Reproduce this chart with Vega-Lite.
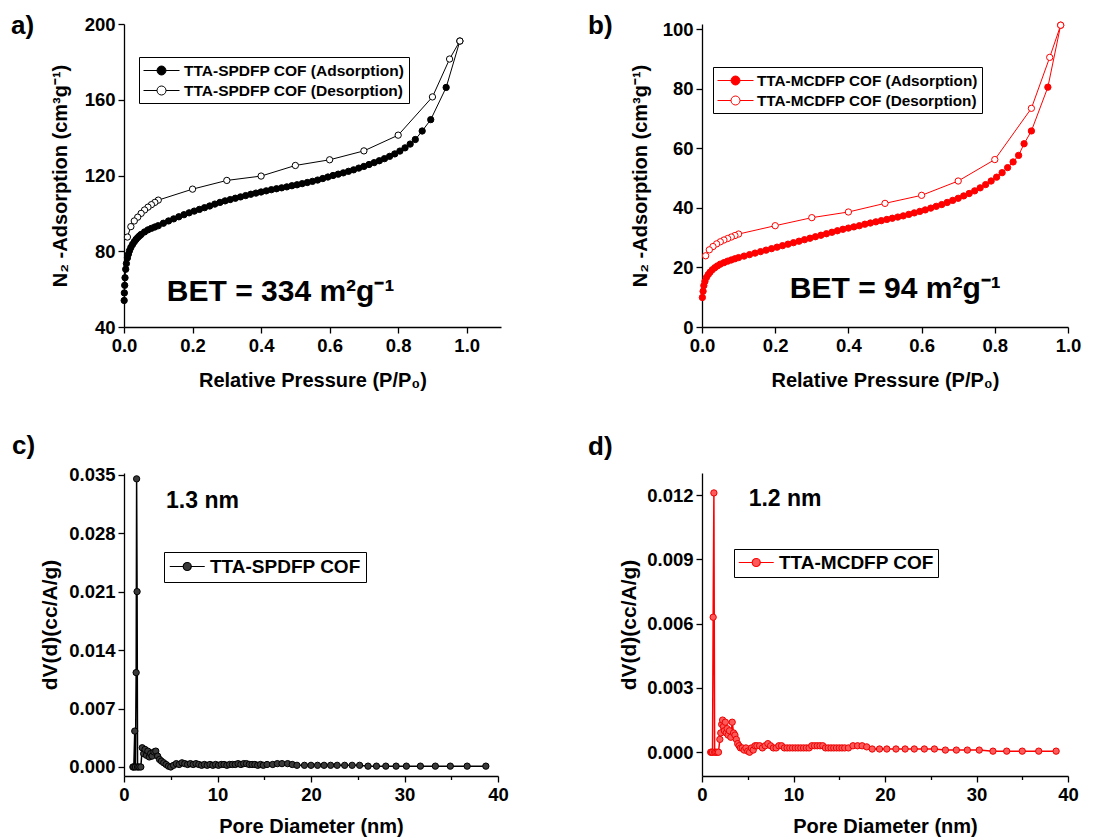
{
"$schema":"https://vega.github.io/schema/vega-lite/v6.json",
"background":"white",
"padding":{"left":11,"top":13,"right":5,"bottom":5},
"bounds":"flush",
"columns":2,
"spacing":{"row":146,"column":201},
"resolve":{"scale":{"fill":"independent","x":"independent","y":"independent"},"legend":{"fill":"independent"},"axis":{"x":"independent","y":"independent"}},
"datasets":{
"a":[
{"p":0.0005,"v":54,"s":"TTA-SPDFP COF (Adsorption)"},{"p":0.001,"v":58,"s":"TTA-SPDFP COF (Adsorption)"},{"p":0.002,"v":62,"s":"TTA-SPDFP COF (Adsorption)"},{"p":0.003,"v":66,"s":"TTA-SPDFP COF (Adsorption)"},{"p":0.005,"v":70.5,"s":"TTA-SPDFP COF (Adsorption)"},{"p":0.007,"v":73.5,"s":"TTA-SPDFP COF (Adsorption)"},{"p":0.01,"v":76.5,"s":"TTA-SPDFP COF (Adsorption)"},{"p":0.013,"v":78.5,"s":"TTA-SPDFP COF (Adsorption)"},{"p":0.016,"v":80.3,"s":"TTA-SPDFP COF (Adsorption)"},{"p":0.02,"v":82,"s":"TTA-SPDFP COF (Adsorption)"},{"p":0.025,"v":83.6,"s":"TTA-SPDFP COF (Adsorption)"},{"p":0.03,"v":85,"s":"TTA-SPDFP COF (Adsorption)"},{"p":0.035,"v":86.2,"s":"TTA-SPDFP COF (Adsorption)"},{"p":0.04,"v":87.2,"s":"TTA-SPDFP COF (Adsorption)"},{"p":0.045,"v":88.1,"s":"TTA-SPDFP COF (Adsorption)"},{"p":0.05,"v":88.9,"s":"TTA-SPDFP COF (Adsorption)"},{"p":0.06,"v":90.2,"s":"TTA-SPDFP COF (Adsorption)"},{"p":0.07,"v":91.3,"s":"TTA-SPDFP COF (Adsorption)"},{"p":0.08,"v":92.1,"s":"TTA-SPDFP COF (Adsorption)"},{"p":0.09,"v":92.8,"s":"TTA-SPDFP COF (Adsorption)"},{"p":0.1,"v":93.5,"s":"TTA-SPDFP COF (Adsorption)"},{"p":0.115,"v":94.8,"s":"TTA-SPDFP COF (Adsorption)"},{"p":0.13,"v":96,"s":"TTA-SPDFP COF (Adsorption)"},{"p":0.145,"v":97.1,"s":"TTA-SPDFP COF (Adsorption)"},{"p":0.16,"v":98.2,"s":"TTA-SPDFP COF (Adsorption)"},{"p":0.175,"v":99.3,"s":"TTA-SPDFP COF (Adsorption)"},{"p":0.19,"v":100.3,"s":"TTA-SPDFP COF (Adsorption)"},{"p":0.205,"v":101.2,"s":"TTA-SPDFP COF (Adsorption)"},{"p":0.22,"v":102.1,"s":"TTA-SPDFP COF (Adsorption)"},{"p":0.235,"v":103,"s":"TTA-SPDFP COF (Adsorption)"},{"p":0.25,"v":103.9,"s":"TTA-SPDFP COF (Adsorption)"},{"p":0.265,"v":104.9,"s":"TTA-SPDFP COF (Adsorption)"},{"p":0.28,"v":105.8,"s":"TTA-SPDFP COF (Adsorption)"},{"p":0.295,"v":106.6,"s":"TTA-SPDFP COF (Adsorption)"},{"p":0.31,"v":107.3,"s":"TTA-SPDFP COF (Adsorption)"},{"p":0.325,"v":108,"s":"TTA-SPDFP COF (Adsorption)"},{"p":0.34,"v":108.7,"s":"TTA-SPDFP COF (Adsorption)"},{"p":0.355,"v":109.4,"s":"TTA-SPDFP COF (Adsorption)"},{"p":0.37,"v":110.1,"s":"TTA-SPDFP COF (Adsorption)"},{"p":0.385,"v":110.7,"s":"TTA-SPDFP COF (Adsorption)"},{"p":0.4,"v":111.3,"s":"TTA-SPDFP COF (Adsorption)"},{"p":0.415,"v":111.9,"s":"TTA-SPDFP COF (Adsorption)"},{"p":0.43,"v":112.5,"s":"TTA-SPDFP COF (Adsorption)"},{"p":0.445,"v":113,"s":"TTA-SPDFP COF (Adsorption)"},{"p":0.46,"v":113.5,"s":"TTA-SPDFP COF (Adsorption)"},{"p":0.475,"v":114,"s":"TTA-SPDFP COF (Adsorption)"},{"p":0.49,"v":114.6,"s":"TTA-SPDFP COF (Adsorption)"},{"p":0.505,"v":115.1,"s":"TTA-SPDFP COF (Adsorption)"},{"p":0.52,"v":115.7,"s":"TTA-SPDFP COF (Adsorption)"},{"p":0.535,"v":116.3,"s":"TTA-SPDFP COF (Adsorption)"},{"p":0.55,"v":116.9,"s":"TTA-SPDFP COF (Adsorption)"},{"p":0.565,"v":117.6,"s":"TTA-SPDFP COF (Adsorption)"},{"p":0.58,"v":118.4,"s":"TTA-SPDFP COF (Adsorption)"},{"p":0.595,"v":119.2,"s":"TTA-SPDFP COF (Adsorption)"},{"p":0.61,"v":120,"s":"TTA-SPDFP COF (Adsorption)"},{"p":0.625,"v":120.7,"s":"TTA-SPDFP COF (Adsorption)"},{"p":0.64,"v":121.4,"s":"TTA-SPDFP COF (Adsorption)"},{"p":0.655,"v":122.2,"s":"TTA-SPDFP COF (Adsorption)"},{"p":0.67,"v":123,"s":"TTA-SPDFP COF (Adsorption)"},{"p":0.685,"v":123.9,"s":"TTA-SPDFP COF (Adsorption)"},{"p":0.7,"v":124.8,"s":"TTA-SPDFP COF (Adsorption)"},{"p":0.715,"v":125.8,"s":"TTA-SPDFP COF (Adsorption)"},{"p":0.73,"v":126.8,"s":"TTA-SPDFP COF (Adsorption)"},{"p":0.745,"v":127.8,"s":"TTA-SPDFP COF (Adsorption)"},{"p":0.76,"v":128.9,"s":"TTA-SPDFP COF (Adsorption)"},{"p":0.775,"v":130.1,"s":"TTA-SPDFP COF (Adsorption)"},{"p":0.79,"v":131.4,"s":"TTA-SPDFP COF (Adsorption)"},{"p":0.805,"v":132.9,"s":"TTA-SPDFP COF (Adsorption)"},{"p":0.82,"v":134.6,"s":"TTA-SPDFP COF (Adsorption)"},{"p":0.835,"v":136.6,"s":"TTA-SPDFP COF (Adsorption)"},{"p":0.85,"v":139,"s":"TTA-SPDFP COF (Adsorption)"},{"p":0.87,"v":143.5,"s":"TTA-SPDFP COF (Adsorption)"},{"p":0.895,"v":149.5,"s":"TTA-SPDFP COF (Adsorption)"},{"p":0.94,"v":166.5,"s":"TTA-SPDFP COF (Adsorption)"},{"p":0.98,"v":191,"s":"TTA-SPDFP COF (Adsorption)"},
{"p":0.98,"v":191,"s":"TTA-SPDFP COF (Desorption)"},{"p":0.95,"v":181.5,"s":"TTA-SPDFP COF (Desorption)"},{"p":0.9,"v":161.5,"s":"TTA-SPDFP COF (Desorption)"},{"p":0.8,"v":141.3,"s":"TTA-SPDFP COF (Desorption)"},{"p":0.7,"v":133,"s":"TTA-SPDFP COF (Desorption)"},{"p":0.6,"v":128.3,"s":"TTA-SPDFP COF (Desorption)"},{"p":0.5,"v":125.3,"s":"TTA-SPDFP COF (Desorption)"},{"p":0.4,"v":119.7,"s":"TTA-SPDFP COF (Desorption)"},{"p":0.3,"v":117.4,"s":"TTA-SPDFP COF (Desorption)"},{"p":0.2,"v":112.8,"s":"TTA-SPDFP COF (Desorption)"},{"p":0.1,"v":107,"s":"TTA-SPDFP COF (Desorption)"},{"p":0.09,"v":105.8,"s":"TTA-SPDFP COF (Desorption)"},{"p":0.08,"v":104.6,"s":"TTA-SPDFP COF (Desorption)"},{"p":0.07,"v":103.3,"s":"TTA-SPDFP COF (Desorption)"},{"p":0.06,"v":101.8,"s":"TTA-SPDFP COF (Desorption)"},{"p":0.05,"v":100,"s":"TTA-SPDFP COF (Desorption)"},{"p":0.04,"v":98,"s":"TTA-SPDFP COF (Desorption)"},{"p":0.03,"v":96,"s":"TTA-SPDFP COF (Desorption)"},{"p":0.02,"v":93,"s":"TTA-SPDFP COF (Desorption)"},{"p":0.01,"v":87.5,"s":"TTA-SPDFP COF (Desorption)"}
],
"b":[
{"p":0.001,"v":9.9,"s":"TTA-MCDFP COF (Adsorption)"},{"p":0.003,"v":12,"s":"TTA-MCDFP COF (Adsorption)"},{"p":0.005,"v":13.9,"s":"TTA-MCDFP COF (Adsorption)"},{"p":0.008,"v":15.3,"s":"TTA-MCDFP COF (Adsorption)"},{"p":0.012,"v":16.6,"s":"TTA-MCDFP COF (Adsorption)"},{"p":0.017,"v":17.6,"s":"TTA-MCDFP COF (Adsorption)"},{"p":0.022,"v":18.4,"s":"TTA-MCDFP COF (Adsorption)"},{"p":0.028,"v":19.2,"s":"TTA-MCDFP COF (Adsorption)"},{"p":0.035,"v":19.9,"s":"TTA-MCDFP COF (Adsorption)"},{"p":0.042,"v":20.5,"s":"TTA-MCDFP COF (Adsorption)"},{"p":0.05,"v":21.1,"s":"TTA-MCDFP COF (Adsorption)"},{"p":0.06,"v":21.6,"s":"TTA-MCDFP COF (Adsorption)"},{"p":0.07,"v":22.1,"s":"TTA-MCDFP COF (Adsorption)"},{"p":0.08,"v":22.5,"s":"TTA-MCDFP COF (Adsorption)"},{"p":0.09,"v":22.9,"s":"TTA-MCDFP COF (Adsorption)"},{"p":0.1,"v":23.3,"s":"TTA-MCDFP COF (Adsorption)"},{"p":0.115,"v":23.8,"s":"TTA-MCDFP COF (Adsorption)"},{"p":0.13,"v":24.3,"s":"TTA-MCDFP COF (Adsorption)"},{"p":0.145,"v":24.8,"s":"TTA-MCDFP COF (Adsorption)"},{"p":0.16,"v":25.3,"s":"TTA-MCDFP COF (Adsorption)"},{"p":0.175,"v":25.8,"s":"TTA-MCDFP COF (Adsorption)"},{"p":0.19,"v":26.3,"s":"TTA-MCDFP COF (Adsorption)"},{"p":0.205,"v":26.8,"s":"TTA-MCDFP COF (Adsorption)"},{"p":0.22,"v":27.3,"s":"TTA-MCDFP COF (Adsorption)"},{"p":0.235,"v":27.8,"s":"TTA-MCDFP COF (Adsorption)"},{"p":0.25,"v":28.3,"s":"TTA-MCDFP COF (Adsorption)"},{"p":0.265,"v":28.8,"s":"TTA-MCDFP COF (Adsorption)"},{"p":0.28,"v":29.3,"s":"TTA-MCDFP COF (Adsorption)"},{"p":0.295,"v":29.8,"s":"TTA-MCDFP COF (Adsorption)"},{"p":0.31,"v":30.3,"s":"TTA-MCDFP COF (Adsorption)"},{"p":0.325,"v":30.8,"s":"TTA-MCDFP COF (Adsorption)"},{"p":0.34,"v":31.3,"s":"TTA-MCDFP COF (Adsorption)"},{"p":0.355,"v":31.8,"s":"TTA-MCDFP COF (Adsorption)"},{"p":0.37,"v":32.3,"s":"TTA-MCDFP COF (Adsorption)"},{"p":0.385,"v":32.8,"s":"TTA-MCDFP COF (Adsorption)"},{"p":0.4,"v":33.2,"s":"TTA-MCDFP COF (Adsorption)"},{"p":0.415,"v":33.6,"s":"TTA-MCDFP COF (Adsorption)"},{"p":0.43,"v":34,"s":"TTA-MCDFP COF (Adsorption)"},{"p":0.445,"v":34.5,"s":"TTA-MCDFP COF (Adsorption)"},{"p":0.46,"v":34.9,"s":"TTA-MCDFP COF (Adsorption)"},{"p":0.475,"v":35.3,"s":"TTA-MCDFP COF (Adsorption)"},{"p":0.49,"v":35.7,"s":"TTA-MCDFP COF (Adsorption)"},{"p":0.505,"v":36.1,"s":"TTA-MCDFP COF (Adsorption)"},{"p":0.52,"v":36.5,"s":"TTA-MCDFP COF (Adsorption)"},{"p":0.535,"v":36.9,"s":"TTA-MCDFP COF (Adsorption)"},{"p":0.55,"v":37.3,"s":"TTA-MCDFP COF (Adsorption)"},{"p":0.565,"v":37.8,"s":"TTA-MCDFP COF (Adsorption)"},{"p":0.58,"v":38.3,"s":"TTA-MCDFP COF (Adsorption)"},{"p":0.595,"v":38.8,"s":"TTA-MCDFP COF (Adsorption)"},{"p":0.61,"v":39.3,"s":"TTA-MCDFP COF (Adsorption)"},{"p":0.625,"v":39.9,"s":"TTA-MCDFP COF (Adsorption)"},{"p":0.64,"v":40.5,"s":"TTA-MCDFP COF (Adsorption)"},{"p":0.655,"v":41.1,"s":"TTA-MCDFP COF (Adsorption)"},{"p":0.67,"v":41.8,"s":"TTA-MCDFP COF (Adsorption)"},{"p":0.685,"v":42.5,"s":"TTA-MCDFP COF (Adsorption)"},{"p":0.7,"v":43.2,"s":"TTA-MCDFP COF (Adsorption)"},{"p":0.715,"v":44,"s":"TTA-MCDFP COF (Adsorption)"},{"p":0.73,"v":44.8,"s":"TTA-MCDFP COF (Adsorption)"},{"p":0.745,"v":45.7,"s":"TTA-MCDFP COF (Adsorption)"},{"p":0.76,"v":46.7,"s":"TTA-MCDFP COF (Adsorption)"},{"p":0.775,"v":47.8,"s":"TTA-MCDFP COF (Adsorption)"},{"p":0.79,"v":49,"s":"TTA-MCDFP COF (Adsorption)"},{"p":0.805,"v":50.3,"s":"TTA-MCDFP COF (Adsorption)"},{"p":0.82,"v":51.8,"s":"TTA-MCDFP COF (Adsorption)"},{"p":0.835,"v":53.5,"s":"TTA-MCDFP COF (Adsorption)"},{"p":0.85,"v":55.4,"s":"TTA-MCDFP COF (Adsorption)"},{"p":0.865,"v":57.6,"s":"TTA-MCDFP COF (Adsorption)"},{"p":0.88,"v":61.5,"s":"TTA-MCDFP COF (Adsorption)"},{"p":0.9,"v":65.8,"s":"TTA-MCDFP COF (Adsorption)"},{"p":0.945,"v":80.5,"s":"TTA-MCDFP COF (Adsorption)"},{"p":0.98,"v":101.3,"s":"TTA-MCDFP COF (Adsorption)"},
{"p":0.98,"v":101.3,"s":"TTA-MCDFP COF (Desorption)"},{"p":0.95,"v":90.5,"s":"TTA-MCDFP COF (Desorption)"},{"p":0.9,"v":73.4,"s":"TTA-MCDFP COF (Desorption)"},{"p":0.8,"v":56.2,"s":"TTA-MCDFP COF (Desorption)"},{"p":0.7,"v":49,"s":"TTA-MCDFP COF (Desorption)"},{"p":0.6,"v":44.2,"s":"TTA-MCDFP COF (Desorption)"},{"p":0.5,"v":41.5,"s":"TTA-MCDFP COF (Desorption)"},{"p":0.4,"v":38.6,"s":"TTA-MCDFP COF (Desorption)"},{"p":0.3,"v":36.7,"s":"TTA-MCDFP COF (Desorption)"},{"p":0.2,"v":34,"s":"TTA-MCDFP COF (Desorption)"},{"p":0.1,"v":31.2,"s":"TTA-MCDFP COF (Desorption)"},{"p":0.09,"v":30.7,"s":"TTA-MCDFP COF (Desorption)"},{"p":0.08,"v":30.2,"s":"TTA-MCDFP COF (Desorption)"},{"p":0.07,"v":29.7,"s":"TTA-MCDFP COF (Desorption)"},{"p":0.06,"v":29.2,"s":"TTA-MCDFP COF (Desorption)"},{"p":0.05,"v":28.6,"s":"TTA-MCDFP COF (Desorption)"},{"p":0.04,"v":27.9,"s":"TTA-MCDFP COF (Desorption)"},{"p":0.03,"v":27,"s":"TTA-MCDFP COF (Desorption)"},{"p":0.02,"v":25.9,"s":"TTA-MCDFP COF (Desorption)"},{"p":0.01,"v":23.9,"s":"TTA-MCDFP COF (Desorption)"}
],
"c":[
{"d":0.95,"v":0},{"d":1.05,"v":0},{"d":1.15,"v":0.0043},{"d":1.22,"v":0},{"d":1.3,"v":0.0113},{"d":1.35,"v":0.0345},{"d":1.4,"v":0.021},{"d":1.45,"v":0},{"d":1.6,"v":0},{"d":1.8,"v":0},{"d":1.95,"v":0.0023},{"d":2.1,"v":0.0016},{"d":2.25,"v":0.0021},{"d":2.4,"v":0.0014},{"d":2.55,"v":0.0019},{"d":2.7,"v":0.0012},{"d":2.85,"v":0.0016},{"d":3.0,"v":0.0013},{"d":3.2,"v":0.0018},{"d":3.4,"v":0.0019},{"d":3.6,"v":0.0013},{"d":3.8,"v":0.0009},{"d":4.0,"v":0.0007},{"d":4.25,"v":0.0005},{"d":4.5,"v":0.0003},{"d":4.75,"v":0.0001},{"d":5.0,"v":0},{"d":5.3,"v":0.0002},{"d":5.6,"v":0.0004},{"d":5.9,"v":0.0003},{"d":6.2,"v":0.0005},{"d":6.5,"v":0.0004},{"d":6.8,"v":0.0003},{"d":7.1,"v":0.0004},{"d":7.4,"v":0.0003},{"d":7.7,"v":0.0004},{"d":8.0,"v":0.0003},{"d":8.3,"v":0.0002},{"d":8.6,"v":0.0003},{"d":8.9,"v":0.0002},{"d":9.2,"v":0.0003},{"d":9.5,"v":0.0002},{"d":9.8,"v":0.0003},{"d":10.1,"v":0.0002},{"d":10.4,"v":0.0003},{"d":10.7,"v":0.0003},{"d":11.0,"v":0.0002},{"d":11.3,"v":0.0003},{"d":11.6,"v":0.0003},{"d":11.9,"v":0.0003},{"d":12.2,"v":0.0004},{"d":12.5,"v":0.0003},{"d":12.8,"v":0.0004},{"d":13.1,"v":0.0004},{"d":13.4,"v":0.0003},{"d":13.7,"v":0.0003},{"d":14.0,"v":0.0003},{"d":14.3,"v":0.0002},{"d":14.6,"v":0.0003},{"d":14.9,"v":0.0002},{"d":15.3,"v":0.0003},{"d":15.9,"v":0.0003},{"d":16.4,"v":0.0004},{"d":16.9,"v":0.0004},{"d":17.5,"v":0.0004},{"d":18.0,"v":0.0003},{"d":18.5,"v":0.0002},{"d":19.3,"v":0.0002},{"d":20.0,"v":0.0002},{"d":20.7,"v":0.0002},{"d":21.4,"v":0.0002},{"d":22.1,"v":0.0002},{"d":22.8,"v":0.0002},{"d":23.6,"v":0.0002},{"d":24.4,"v":0.0002},{"d":25.2,"v":0.0002},{"d":26.1,"v":0.0001},{"d":27.0,"v":0.0001},{"d":28.0,"v":0.0001},{"d":29.1,"v":0.0001},{"d":30.2,"v":0.0001},{"d":31.7,"v":0.0001},{"d":33.3,"v":0.0001},{"d":34.9,"v":0.0001},{"d":36.7,"v":0.0001},{"d":38.7,"v":0.0001}
],
"d":[
{"d":0.95,"v":0},{"d":1.05,"v":0},{"d":1.15,"v":0},{"d":1.22,"v":0.0063},{"d":1.3,"v":0.0121},{"d":1.38,"v":0},{"d":1.5,"v":0},{"d":1.65,"v":0},{"d":1.8,"v":0},{"d":1.95,"v":0.0006},{"d":2.05,"v":0.0009},{"d":2.15,"v":0.0013},{"d":2.25,"v":0.0015},{"d":2.35,"v":0.0012},{"d":2.45,"v":0.001},{"d":2.55,"v":0.0014},{"d":2.65,"v":0.0009},{"d":2.75,"v":0.0011},{"d":2.85,"v":0.0008},{"d":3.0,"v":0.001},{"d":3.15,"v":0.0007},{"d":3.3,"v":0.0014},{"d":3.45,"v":0.0009},{"d":3.6,"v":0.0008},{"d":3.75,"v":0.0006},{"d":3.9,"v":0.0004},{"d":4.05,"v":0.0003},{"d":4.2,"v":0.0002},{"d":4.4,"v":0.0002},{"d":4.6,"v":0.0001},{"d":4.8,"v":0.0002},{"d":5.0,"v":0.00005},{"d":5.2,"v":0},{"d":5.4,"v":0.0002},{"d":5.6,"v":0.0001},{"d":5.8,"v":0.0003},{"d":6.0,"v":0.0003},{"d":6.3,"v":0.0003},{"d":6.6,"v":0.0002},{"d":6.9,"v":0.0003},{"d":7.2,"v":0.0004},{"d":7.5,"v":0.0003},{"d":7.8,"v":0.0002},{"d":8.1,"v":0.0002},{"d":8.4,"v":0.0003},{"d":8.7,"v":0.0003},{"d":9.0,"v":0.0002},{"d":9.3,"v":0.0002},{"d":9.6,"v":0.0002},{"d":9.9,"v":0.0002},{"d":10.2,"v":0.0002},{"d":10.5,"v":0.0002},{"d":10.8,"v":0.0002},{"d":11.1,"v":0.0002},{"d":11.4,"v":0.0002},{"d":11.7,"v":0.0002},{"d":12.0,"v":0.0003},{"d":12.3,"v":0.0003},{"d":12.6,"v":0.0003},{"d":12.9,"v":0.0003},{"d":13.2,"v":0.0003},{"d":13.5,"v":0.0002},{"d":13.8,"v":0.0002},{"d":14.1,"v":0.0002},{"d":14.4,"v":0.0002},{"d":14.7,"v":0.0002},{"d":15.0,"v":0.0002},{"d":15.3,"v":0.0002},{"d":15.6,"v":0.0002},{"d":16.0,"v":0.0002},{"d":16.5,"v":0.0003},{"d":17.0,"v":0.0003},{"d":17.5,"v":0.0003},{"d":18.0,"v":0.00025},{"d":18.6,"v":0.00015},{"d":19.4,"v":0.00015},{"d":20.2,"v":0.00015},{"d":21.2,"v":0.00015},{"d":22.2,"v":0.00015},{"d":23.2,"v":0.00015},{"d":24.3,"v":0.00015},{"d":25.4,"v":0.00015},{"d":26.6,"v":0.0001},{"d":27.8,"v":0.0001},{"d":29.0,"v":0.0001},{"d":30.3,"v":0.0001},{"d":31.8,"v":0.00005},{"d":33.3,"v":0.00005},{"d":35.0,"v":0.00005},{"d":36.8,"v":0.00005},{"d":38.7,"v":0.00005}
]
},
"concat":[
{"width":377,"height":303,
"title":{"text":"a)","anchor":"start","frame":"group","dx":-113,"dy":45,"baseline":"alphabetic","offset":0,"fontSize":26},
"layer":[
{"data":{"name":"a"},"mark":{"type":"line","color":"black","strokeWidth":1},
 "encoding":{
 "x":{"field":"p","type":"quantitative","scale":{"domain":[0,1.1],"nice":false,"zero":false},"axis":{"title":"Relative Pressure (P/P₀)","values":[0,0.1,0.2,0.3,0.4,0.5,0.6,0.7,0.8,0.9,1.0,1.1],"labelExpr":"(round(datum.value*10) % 2 == 0 && datum.value < 1.05) ? format(datum.value, '.1f') : ''","tickSize":{"condition":{"test":"round(datum.value*10) % 2 == 0","value":6},"value":3.5},"titlePadding":16}},
 "y":{"field":"v","type":"quantitative","scale":{"domain":[40,200],"nice":false,"zero":false},"axis":{"title":"N₂ -Adsorption (cm³g⁻¹)","values":[40,60,80,100,120,140,160,180,200],"labelExpr":"datum.value % 40 == 0 ? datum.label : ''","tickSize":{"condition":{"test":"datum.value % 40 == 0","value":6},"value":3.5},"titlePadding":14}},
 "detail":{"field":"s"}}},
{"data":{"name":"a"},"mark":{"type":"point","shape":"circle","filled":true,"size":40,"stroke":"black","strokeWidth":1,"opacity":1},
 "encoding":{"x":{"field":"p","type":"quantitative"},"y":{"field":"v","type":"quantitative"},
 "fill":{"field":"s","type":"nominal","scale":{"domain":["TTA-SPDFP COF (Adsorption)","TTA-SPDFP COF (Desorption)"],"range":["black","white"]},
 "legend":{"title":null,"orient":"none","legendX":15,"legendY":33,"padding":4,"rowPadding":2,"strokeColor":"black","labelFontSize":15.5,"labelLimit":0,"symbolType":"M-1,0L0.5,0M1.5,0L3,0M1.5,0A0.5,0.5,0,1,1,0.5,0A0.5,0.5,0,1,1,1.5,0","symbolSize":324,"symbolStrokeColor":"black","symbolStrokeWidth":1,"labelOffset":22}}}},
{"data":{"values":[{"label":"BET = 334 m²g⁻¹"}]},"mark":{"type":"text","align":"left","baseline":"middle","fontSize":30,"fontWeight":"bold","font":"Liberation Sans","color":"black"},"encoding":{"x":{"datum":0.125,"type":"quantitative"},"y":{"datum":58.5,"type":"quantitative"},"text":{"field":"label","type":"nominal"}}}
]},
{"width":366,"height":303,
"title":{"text":"b)","anchor":"start","frame":"group","dx":-114,"dy":40,"baseline":"alphabetic","offset":0,"fontSize":26},
"layer":[
{"data":{"name":"b"},"mark":{"type":"line","color":"#ff0000","strokeWidth":1},
 "encoding":{
 "x":{"field":"p","type":"quantitative","scale":{"domain":[0,1.0],"nice":false,"zero":false},"axis":{"title":"Relative Pressure (P/P₀)","values":[0,0.1,0.2,0.3,0.4,0.5,0.6,0.7,0.8,0.9,1.0],"labelExpr":"round(datum.value*10) % 2 == 0 ? format(datum.value, '.1f') : ''","tickSize":{"condition":{"test":"round(datum.value*10) % 2 == 0","value":6},"value":3.5},"titlePadding":16}},
 "y":{"field":"v","type":"quantitative","scale":{"domain":[0,101.7],"nice":false,"zero":false},"axis":{"title":"N₂ -Adsorption (cm³g⁻¹)","values":[0,10,20,30,40,50,60,70,80,90,100],"labelExpr":"datum.value % 20 == 0 ? datum.label : ''","tickSize":{"condition":{"test":"datum.value % 20 == 0","value":6},"value":3.5},"titlePadding":12}},
 "detail":{"field":"s"}}},
{"data":{"name":"b"},"mark":{"type":"point","shape":"circle","filled":true,"size":40,"stroke":"#ff0000","strokeWidth":1,"opacity":1},
 "encoding":{"x":{"field":"p","type":"quantitative"},"y":{"field":"v","type":"quantitative"},
 "fill":{"field":"s","type":"nominal","scale":{"domain":["TTA-MCDFP COF (Adsorption)","TTA-MCDFP COF (Desorption)"],"range":["#ff0000","white"]},
 "legend":{"title":null,"orient":"none","legendX":11,"legendY":43,"padding":4,"rowPadding":2,"strokeColor":"black","labelFontSize":15.3,"labelLimit":0,"symbolType":"M-1,0L0.5,0M1.5,0L3,0M1.5,0A0.5,0.5,0,1,1,0.5,0A0.5,0.5,0,1,1,1.5,0","symbolSize":324,"symbolStrokeColor":"#ff0000","symbolStrokeWidth":1,"labelOffset":21}}}},
{"data":{"values":[{"label":"BET = 94 m²g⁻¹"}]},"mark":{"type":"text","align":"left","baseline":"middle","fontSize":30,"fontWeight":"bold","font":"Liberation Sans","color":"black"},"encoding":{"x":{"datum":0.24,"type":"quantitative"},"y":{"datum":12.7,"type":"quantitative"},"text":{"field":"label","type":"nominal"}}}
]},
{"width":374,"height":303,
"title":{"text":"c)","anchor":"start","frame":"group","dx":-112,"dy":14,"baseline":"alphabetic","offset":0,"fontSize":26},
"layer":[
{"data":{"name":"c"},"mark":{"type":"line","color":"black","strokeWidth":1.5},
 "encoding":{
 "x":{"field":"d","type":"quantitative","scale":{"domain":[0,40],"nice":false,"zero":false},"axis":{"title":"Pore Diameter (nm)","values":[0,5,10,15,20,25,30,35,40],"labelExpr":"datum.value % 10 == 0 ? datum.label : ''","tickSize":{"condition":{"test":"datum.value % 10 == 0","value":6},"value":3.5},"titlePadding":13}},
 "y":{"field":"v","type":"quantitative","scale":{"domain":[-0.00108,0.0352],"nice":false,"zero":false},"axis":{"title":"dV(d)(cc/A/g)","titleFontSize":21,"format":".3f","values":[0,0.0035,0.007,0.0105,0.014,0.0175,0.021,0.0245,0.028,0.0315,0.035],"labelExpr":"round(datum.value*10000) % 70 == 0 ? datum.label : ''","tickSize":{"condition":{"test":"round(datum.value*10000) % 70 == 0","value":6},"value":3.5},"titlePadding":8}}}},
{"data":{"name":"c"},"mark":{"type":"point","shape":"circle","filled":true,"size":40,"stroke":"black","strokeWidth":1,"opacity":1},
 "encoding":{"x":{"field":"d","type":"quantitative"},"y":{"field":"v","type":"quantitative"},
 "fill":{"datum":"TTA-SPDFP COF","type":"nominal","scale":{"domain":["TTA-SPDFP COF"],"range":["#3a3a3a"]},
 "legend":{"title":null,"orient":"none","legendX":40,"legendY":79,"padding":5,"strokeColor":"black","labelFontSize":19,"labelLimit":0,"symbolType":"M-1,0L0.54,0M1.46,0L3,0M1.46,0A0.46,0.46,0,1,1,0.54,0A0.46,0.46,0,1,1,1.46,0","symbolSize":306,"symbolStrokeColor":"black","symbolStrokeWidth":1.2,"labelOffset":22}}}},
{"data":{"values":[{"label":"1.3 nm"}]},"mark":{"type":"text","align":"left","baseline":"middle","fontSize":23,"fontWeight":"bold","font":"Liberation Sans","color":"black"},"encoding":{"x":{"datum":4.5,"type":"quantitative"},"y":{"datum":0.0319,"type":"quantitative"},"text":{"field":"label","type":"nominal"}}}
]},
{"width":366,"height":303,
"title":{"text":"d)","anchor":"start","frame":"group","dx":-114,"dy":8,"baseline":"alphabetic","offset":0,"fontSize":26},
"layer":[
{"data":{"name":"d"},"mark":{"type":"line","color":"#ff0000","strokeWidth":1.5},
 "encoding":{
 "x":{"field":"d","type":"quantitative","scale":{"domain":[0,40],"nice":false,"zero":false},"axis":{"title":"Pore Diameter (nm)","values":[0,5,10,15,20,25,30,35,40],"labelExpr":"datum.value % 10 == 0 ? datum.label : ''","tickSize":{"condition":{"test":"datum.value % 10 == 0","value":6},"value":3.5},"titlePadding":13}},
 "y":{"field":"v","type":"quantitative","scale":{"domain":[-0.00111,0.01303],"nice":false,"zero":false},"axis":{"title":"dV(d)(cc/A/g)","titleFontSize":21,"format":".3f","values":[0,0.0015,0.003,0.0045,0.006,0.0075,0.009,0.0105,0.012],"labelExpr":"round(datum.value*10000) % 30 == 0 ? datum.label : ''","tickSize":{"condition":{"test":"round(datum.value*10000) % 30 == 0","value":6},"value":3.5},"titlePadding":7}}}},
{"data":{"name":"d"},"mark":{"type":"point","shape":"circle","filled":true,"size":40,"stroke":"#ee0000","strokeWidth":1,"opacity":1},
 "encoding":{"x":{"field":"d","type":"quantitative"},"y":{"field":"v","type":"quantitative"},
 "fill":{"datum":"TTA-MCDFP COF","type":"nominal","scale":{"domain":["TTA-MCDFP COF"],"range":["#ff5a5a"]},
 "legend":{"title":null,"orient":"none","legendX":32,"legendY":76,"padding":4,"strokeColor":"black","labelFontSize":19,"labelLimit":0,"symbolType":"M-1,0L0.54,0M1.46,0L3,0M1.46,0A0.46,0.46,0,1,1,0.54,0A0.46,0.46,0,1,1,1.46,0","symbolSize":306,"symbolStrokeColor":"#ff0000","symbolStrokeWidth":1.2,"labelOffset":22}}}},
{"data":{"values":[{"label":"1.2 nm"}]},"mark":{"type":"text","align":"left","baseline":"middle","fontSize":23,"fontWeight":"bold","font":"Liberation Sans","color":"black"},"encoding":{"x":{"datum":5.1,"type":"quantitative"},"y":{"datum":0.01182,"type":"quantitative"},"text":{"field":"label","type":"nominal"}}}
]}
],
"config":{
"view":{"stroke":null},
"font":"Liberation Sans",
"axis":{"domainColor":"black","domainWidth":1.3,"tickColor":"black","tickWidth":1.3,"grid":false,"labelFont":"Liberation Sans","labelFontSize":18.5,"labelFontWeight":"bold","labelColor":"black","labelPadding":3,"labelFlush":false,"labelOverlap":false,"titleFont":"Liberation Sans","titleFontSize":20,"titleFontWeight":"bold","titleColor":"black"},
"legend":{"labelFont":"Liberation Sans","labelFontWeight":"bold","labelColor":"black","cornerRadius":0,"fillColor":"white"},
"title":{"font":"Liberation Sans","fontWeight":"bold","color":"black","fontSize":26}
}
}
